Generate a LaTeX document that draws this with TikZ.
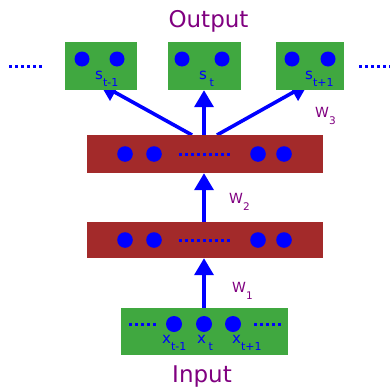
\documentclass[tikz,border=0pt]{standalone}
\usepackage{fontspec}
\setmainfont{DejaVu Sans}
\usetikzlibrary{arrows.meta}
\definecolor{boxgreen}{RGB}{64,168,64}
\definecolor{barred}{RGB}{163,42,42}
\definecolor{lblpurple}{RGB}{128,0,128}
\newcommand{\labsub}[4]{{\fontsize{#3}{#3}\selectfont #1}{\fontsize{#4}{#4}\selectfont\raisebox{-7pt}{#2}}}
\tikzset{
  greenbox/.style={fill=boxgreen, draw=none, rectangle, inner sep=0},
  redbar/.style={fill=barred, draw=none, rectangle, inner sep=0},
  unit/.style={fill=blue},
  dotline/.style={blue, line width=3pt, dash pattern=on 3pt off 3pt},
  conn/.style={blue, line width=3.6pt, -{Triangle[width=19pt,length=17pt]}},
  lbl/.style={inner sep=0, anchor=base west, text=blue},
  wlbl/.style={inner sep=0, anchor=base west, text=lblpurple},
  title/.style={inner sep=0, anchor=base, text=lblpurple, font=\fontsize{23}{23}\selectfont}
}
\begin{document}
\begin{tikzpicture}[x=1pt,y=-1pt]
\useasboundingbox (0,0) rectangle (390,388);
% coordinates for connector ends
\coordinate (h2l) at (192,135);
\coordinate (h2r) at (217,135);
\coordinate (t1) at (100,84);
\coordinate (t3) at (308,84);
% arrows under boxes
\draw[conn] (h2l) -- (t1);
\draw[conn] (h2r) -- (t3);
% output boxes
\node[greenbox, minimum width=72pt, minimum height=48pt] (out1) at (101,66) {};
\node[greenbox, minimum width=73pt, minimum height=48pt] (out2) at (204.5,66) {};
\node[greenbox, minimum width=68pt, minimum height=48pt] (out3) at (310,66) {};
% hidden bars
\node[redbar, minimum width=236pt, minimum height=38pt] (hid2) at (205,154) {};
\node[redbar, minimum width=236pt, minimum height=36pt] (hid1) at (205,240) {};
% input box
\node[greenbox, minimum width=167pt, minimum height=47pt] (inp) at (204.5,331.5) {};
% vertical arrows
\draw[conn] (hid2.north -| 204,0) -- (out2.south -| 204,0);
\draw[conn] (hid1.north -| 204,0) -- (hid2.south -| 204,0);
\draw[conn] (inp.north -| 204,0) -- (hid1.south -| 204,0);
% output units
\fill[unit] (82,59) circle (7.5pt) (117,59) circle (7.5pt);
\fill[unit] (182,59) circle (7.5pt) (222,59) circle (7.5pt);
\fill[unit] (292,59) circle (7.5pt) (328,59) circle (7.5pt);
% hidden units
\foreach \yy in {154,240} {
  \fill[unit] (125,\yy) circle (7.8pt) (154,\yy) circle (7.8pt) (258,\yy) circle (7.8pt) (284,\yy) circle (7.8pt);
  \draw[dotline] (179,\yy) -- (233,\yy);
}
% input units
\fill[unit] (174,324) circle (8pt) (204,324) circle (8pt) (233,324) circle (8pt);
\draw[dotline] (129,324) -- (156,324);
\draw[dotline] (254,324) -- (281,324);
% side dots for output
\draw[dotline] (9,66) -- (43,66);
\draw[dotline] (359,66) -- (392,66);
% labels
\node[lbl] (ls1) at (95,79) {\labsub{s}{t-1}{15}{11}};
\node[lbl] (ls2) at (199,79) {\labsub{s\,}{t}{15}{11}};
\node[lbl] (ls3) at (305,79) {\labsub{s}{t+1}{15}{11}};
\node[lbl] (lx1) at (162,343) {\labsub{x}{t-1}{15}{11}};
\node[lbl] (lx2) at (197,343) {\labsub{x\,}{t}{15}{11}};
\node[lbl] (lx3) at (232,343) {\labsub{x}{t+1}{15}{11}};
\node[wlbl] (w1) at (232,292) {\labsub{W}{1}{14}{10.5}};
\node[wlbl] (w2) at (229,203) {\labsub{W}{2}{14}{10.5}};
\node[wlbl] (w3) at (315,117) {\labsub{W}{3}{14}{10.5}};
\node[title] (otitle) at (208.5,27.5) {Output};
\node[title] (ititle) at (202,382) {Input};
\end{tikzpicture}
\end{document}
